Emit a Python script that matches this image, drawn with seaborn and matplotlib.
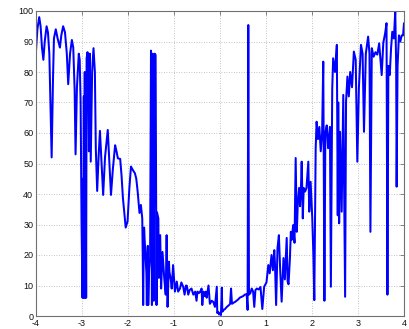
import matplotlib
matplotlib.use("Agg")
import matplotlib.pyplot as plt
import seaborn as sns
import pandas as pd

x_vals = [
    -4.00, -3.97, -3.93, -3.90, -3.87, -3.84, -3.81, -3.77, -3.74, -3.71,
    -3.66, -3.63, -3.61, -3.57, -3.53, -3.48, -3.45, -3.41, -3.37, -3.33,
    -3.30, -3.26, -3.22, -3.19, -3.16, -3.14, -3.11, -3.07, -3.05, -3.03,
    -3.01, -2.99, -2.98, -2.97, -2.96, -2.95, -2.94, -2.93, -2.92, -2.91,
    -2.90, -2.88, -2.86, -2.85, -2.83, -2.81, -2.78, -2.75, -2.72, -2.70,
    -2.67, -2.64, -2.61, -2.58, -2.54, -2.50, -2.44, -2.41, -2.37, -2.33,
    -2.28, -2.25, -2.22, -2.17, -2.14, -2.11, -2.05, -2.01, -1.97, -1.935,
    -1.90, -1.85, -1.82, -1.79, -1.75, -1.72, -1.69, -1.68, -1.67, -1.66,
    -1.65, -1.64, -1.62, -1.60, -1.59, -1.58, -1.57, -1.56, -1.54, -1.52,
    -1.50, -1.49, -1.48, -1.465, -1.45, -1.44, -1.42, -1.40, -1.38, -1.37,
    -1.34, -1.33, -1.30, -1.28, -1.25, -1.23, -1.21, -1.18, -1.16, -1.14,
    -1.11, -1.10, -1.07, -1.05, -1.02, -0.98, -0.94, -0.91, -0.87, -0.84,
    -0.80, -0.77, -0.74, -0.72, -0.69, -0.66, -0.62, -0.58, -0.54, -0.51,
    -0.49, -0.46, -0.43, -0.40, -0.385, -0.36, -0.33, -0.31, -0.29, -0.25,
    -0.22, -0.18, -0.145, -0.11, -0.07, -0.06, -0.04, -0.02, 0.00, 0.02,
    0.04, 0.05, 0.08, 0.11, 0.15, 0.19, 0.22, 0.24, 0.26, 0.30,
    0.326, 0.36, 0.40, 0.43, 0.47, 0.50, 0.54, 0.58, 0.60, 0.615,
    0.63, 0.66, 0.69, 0.72, 0.745, 0.77, 0.80, 0.84, 0.88, 0.92,
    0.96, 1.01, 1.05, 1.08, 1.12, 1.15, 1.18, 1.196, 1.22, 1.25,
    1.28, 1.31, 1.34, 1.38, 1.41, 1.45, 1.47, 1.49, 1.52, 1.54,
    1.56, 1.59, 1.62, 1.645, 1.67, 1.69, 1.72, 1.74, 1.76, 1.776,
    1.80, 1.82, 1.85, 1.88, 1.92, 1.94, 1.97, 2.006, 2.03, 2.05,
    2.08, 2.10, 2.13, 2.16, 2.19, 2.22, 2.245, 2.26, 2.27, 2.29,
    2.32, 2.35, 2.39, 2.41, 2.44, 2.46, 2.50, 2.54, 2.56, 2.57,
    2.59, 2.61, 2.645, 2.68, 2.72, 2.74, 2.77, 2.80, 2.83, 2.87,
    2.91, 2.95, 2.985, 3.02, 3.065, 3.10, 3.13, 3.17, 3.22, 3.25,
    3.27, 3.30, 3.34, 3.38, 3.42, 3.46, 3.515, 3.55, 3.59, 3.62,
    3.64, 3.66, 3.69, 3.72, 3.745, 3.78, 3.81, 3.83, 3.84, 3.86,
    3.89, 3.92, 3.95, 3.98, 4.00,
]

y_vals = [
    87, 94, 98, 95, 88, 84, 90, 95, 93, 86,
    52, 78, 91, 94, 91, 88, 92, 95, 93, 86,
    76, 86, 90.5, 88, 74, 53, 75, 86, 84, 70,
    31, 6, 45, 6, 72, 6, 80, 6, 60, 6,
    84.5, 86.5, 70, 54, 86, 50.6, 80, 87.8, 80, 55,
    41, 52, 60.7, 52, 39.7, 52, 61, 52, 39.7, 48,
    56, 54, 51.7, 51.5, 46, 38.6, 29, 31, 42, 49,
    48, 46.8, 45, 40.8, 33.8, 36.4, 32, 20, 3.6, 20,
    29, 25.6, 20, 14, 3.6, 18, 23, 3.6, 15, 19,
    87, 60, 3.6, 86, 85, 5, 86, 85.6, 3.6, 34,
    32, 12.5, 26.5, 9, 21, 16.7, 12, 7, 26.5, 3,
    17.8, 14.5, 12, 9, 16.7, 8, 11.3, 8, 9, 11,
    9.6, 7, 10, 9.9, 7, 8.5, 9, 7, 8, 5,
    8, 7.5, 8, 9, 3.6, 8, 6.5, 8, 6, 10,
    4, 5, 4.6, 3, 9.6, 1, 1.4, 0.5, 1, 0.3,
    9.3, 1.4, 2, 2.3, 3, 3.5, 4, 9, 4, 4.4,
    4.6, 5, 5.5, 6, 6.3, 6.5, 7, 7.2, 2, 95.4,
    7, 7.5, 9, 8, 3, 8.5, 9, 8.7, 9.5, 2.3,
    9.6, 11, 16.7, 14, 20, 15, 21.6, 16.7, 3.6, 22.3,
    26.5, 14.5, 4.7, 19, 12, 25.6, 11.3, 10.4, 19, 27.6,
    25, 29.8, 24, 51.8, 27.6, 36.4, 42, 36, 42, 50.6,
    32, 42, 40.8, 42, 50.6, 34.2, 44, 32, 20, 5.2,
    55, 63.7, 58, 62, 54, 60, 83.4, 40, 5, 60,
    62.5, 55, 62, 9.6, 74.6, 84.5, 80, 88.9, 33, 70,
    30.4, 60.4, 34.2, 72.5, 6.3, 70.3, 78.5, 72, 80, 75,
    86.7, 84, 50.6, 75, 88.9, 86, 60.4, 86, 91.6, 86,
    27.6, 87.8, 85, 86.5, 85.7, 89.4, 79, 89.6, 92.7, 96,
    7, 82, 79, 88, 93.2, 91, 100, 82, 42.4, 82,
    92, 90, 92, 92, 96,
]

x_ticks = [-4, -3, -2, -1, 0, 1, 2, 3, 4]
y_ticks = [0, 10, 20, 30, 40, 50, 60, 70, 80, 90, 100]

sns.set_theme(style="white")
plt.rcParams['font.family'] = ['Liberation Sans', 'DejaVu Sans']
plt.rcParams['axes.unicode_minus'] = False

df = pd.DataFrame({"x": x_vals, "y": y_vals})

fig = plt.figure(figsize=(4.10, 3.29), dpi=100)
ax = fig.add_axes([36 / 410, 1 - 316 / 329, (404 - 36) / 410, (316 - 11) / 329])

sns.lineplot(data=df, x="x", y="y", ax=ax, estimator=None, sort=False,
             color="#0000ff", linewidth=1.45)

ax.set_xlim(-4, 4)
ax.set_ylim(0, 100)
ax.set_xticks(x_ticks)
ax.set_yticks(y_ticks)
ax.set_xticklabels([str(t) for t in x_ticks])
ax.set_yticklabels([str(t) for t in y_ticks])
ax.set_xlabel("")
ax.set_ylabel("")
ax.grid(True, linestyle=(0, (1, 2)), color="#b0b0b0", linewidth=0.6)
ax.set_axisbelow(True)
for s in ax.spines.values():
    s.set_color("#707070")
    s.set_linewidth(0.8)
ax.tick_params(direction="in", length=3, width=0.6, color="#707070",
               labelsize=6.5, labelcolor="#111111", top=True, right=True,
               pad=2)

fig.savefig("out.png", dpi=100)
